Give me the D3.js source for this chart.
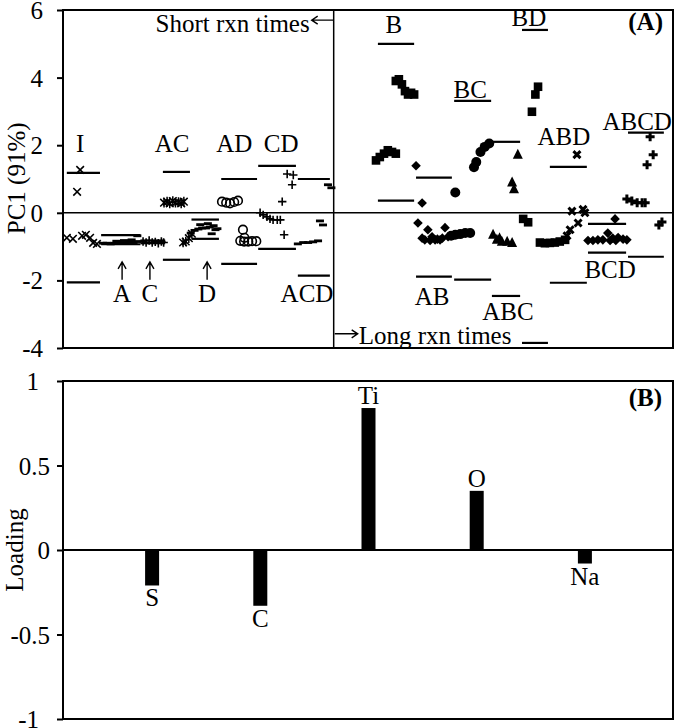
<!DOCTYPE html>
<html><head><meta charset="utf-8">
<script src="https://cdn.jsdelivr.net/npm/d3@7"></script>
<style>
body{margin:0;background:#fff}
svg{display:block}
text{font-family:"Liberation Serif","Times New Roman",serif;fill:#000}
</style>
</head><body>
<svg id="c" width="676" height="728"></svg>
<script>
// ---------------- DATA ----------------
const pcTicks = [-4, -2, 0, 2, 4, 6];
const loadTicks = [-1, -0.5, 0, 0.5, 1];
const elements = ["S", "C", "Ti", "O", "Na"];
const loadings = [-0.21, -0.33, 0.84, 0.35, -0.08];

// PC1 scores, [run index, PC1]
const ptsI = [[4.5,1.27],[3.7,0.62],[1.0,-0.74],[2.6,-0.77],[5.0,-0.68],[6.0,-0.65],[7.1,-0.74],[7.9,-0.89],[8.9,-0.92]];
const ptsA = [[10.5,-0.9],[11.5,-0.9],[12.5,-0.92],[13.5,-0.9],[14.5,-0.9],[15.5,-0.88],[16.5,-0.9],[17.5,-0.86],[18.5,-0.88],[19.5,-0.85],[14,-0.84],[16,-0.82],[18,-0.8],[19.5,-0.68]];
const ptsC = [[21,-0.85],[21.8,-0.88],[22.6,-0.82],[23.4,-0.88],[24.2,-0.86],[25,-0.9],[25.8,-0.85],[26.4,-0.88]];
const ptsAC = [[26.5,0.3],[27.3,0.33],[28,0.28],[28.8,0.35],[29.5,0.3],[30.3,0.32],[31,0.28],[31.7,0.33],[31.5,-0.88],[32.2,-0.85],[33,-0.75],[33.8,-0.62]];
const ptsD = [[33.5,-0.6],[34.5,-0.52],[35.5,-0.48],[36.5,-0.45],[37.5,-0.45],[38.5,-0.42],[39.5,-0.38],[40.5,-0.47],[36,-0.35],[38,-0.32],[40,-0.5],[39,-0.62]];
const ptsAD = [[41.7,0.33],[42.8,0.3],[43.8,0.28],[44.9,0.32],[45.9,0.36],[47.2,-0.5],[47.6,-0.74],[46.5,-0.83],[47.5,-0.85],[48.6,-0.85],[49.6,-0.84],[50.7,-0.84]];
const ptsCD = [[58.8,1.15],[60.4,1.12],[60.1,0.83],[57.5,0.33],[51.7,0.0],[52.5,-0.06],[53.5,-0.12],[54.3,-0.18],[55.1,-0.21],[56.2,-0.21],[57,-0.21],[58,-0.65]];
const ptsACD = [[61.6,-0.92],[63,-0.88],[64.3,-0.88],[65.6,-0.86],[66.9,-0.83],[67.4,-0.24],[68.2,-0.36],[69.5,0.83],[70.4,0.74]];
const ptsB = [[87.3,3.9],[88.1,3.95],[88.9,3.8],[89.7,3.6],[90.5,3.5],[91.3,3.55],[92.1,3.5],[82.1,1.55],[83.1,1.65],[84.2,1.75],[85.2,1.85],[86.3,1.8],[87.3,1.75]];
const ptsAB = [[92.6,1.39],[94.2,0.29],[93.1,-0.3],[95.7,-0.5],[94.9,-0.8],[96.8,-0.71],[97.6,-0.8],[98.9,-0.8],[100.2,-0.44],[101,-0.71],[94.2,-0.75],[96.3,-0.82],[98.2,-0.78],[99.5,-0.75]];
const ptsBC = [[102.9,0.6],[107.8,1.35],[108.4,1.5],[109.5,1.8],[110.6,1.95],[111.8,2.05],[102.9,-0.65],[104.2,-0.63],[105.5,-0.6],[106.8,-0.6],[101.8,-0.68]];
const ptsABC = [[119.3,1.72],[117.8,0.9],[118.3,0.7],[112.8,-0.65],[113.8,-0.8],[115.1,-0.86],[116.5,-0.86],[117.8,-0.89],[114.5,-0.75]];
const ptsBD = [[124.6,3.73],[123.9,3.5],[123,2.99],[120.7,-0.18],[122,-0.28],[125.1,-0.88],[126.4,-0.9],[127.7,-0.89],[129,-0.88],[130.3,-0.85],[131.7,-0.8]];
const ptsABD = [[134.8,1.72],[133.5,0.05],[136.4,0.1],[136.9,0.0],[135.1,-0.3],[133,-0.5],[132.2,-0.68]];
const ptsBCD = [[144.8,-0.18],[137.7,-0.82],[139,-0.82],[140.3,-0.8],[141.6,-0.8],[142.9,-0.6],[144.2,-0.75],[145.6,-0.73],[146.9,-0.78],[147.9,-0.8],[143.5,-0.82],[145,-0.82]];
const ptsABCD = [[154,2.25],[154.8,1.72],[153.2,1.42],[147.9,0.41],[149.2,0.35],[150.6,0.3],[151.9,0.3],[152.7,0.3],[157.1,-0.27],[156.3,-0.36]];

// limit lines: [group, start index, end index, upper, lower]
const limitLines = [
  ["I", 1.0, 9.7, 1.18, -2.06],
  ["A", 10, 20.3, -0.66, -0.93],
  ["C", 20.3, 26.8, -0.82, -0.9],
  ["AC", 26.2, 33.3, 1.21, -1.39],
  ["D", 33.7, 40.9, -0.2, -0.77],
  ["AD", 41.5, 50.9, 1.0, -1.51],
  ["CD", 51.2, 61.1, 1.39, -1.07],
  ["ACD", 61.6, 70.0, 1.0, -1.86],
  ["B", 82.6, 92.1, 5.0, 0.36],
  ["AB", 92.6, 102, 1.04, -1.89],
  ["BC", 102.6, 112.3, 3.31, -1.98],
  ["ABC", 112.5, 119.9, 2.1, -2.46],
  ["BD", 120.4, 127.2, 5.41, -3.85],
  ["ABD", 127.7, 137.4, 1.36, -2.07],
  ["BCD", 137.7, 147.7, -0.33, -1.18],
  ["ABCD", 148.2, 157.6, 2.37, -1.3]
];

// group labels: [text, index, PC1 at baseline]
const groupLabels = [
  ["I",4.5,1.8],["AC",28.6,1.8],["AD",44.9,1.8],["CD",57.2,1.8],
  ["A",15.5,-2.63],["C",22.8,-2.63],["D",37.8,-2.63],["ACD",64,-2.63],
  ["B",86.8,5.33],["BD",122.2,5.52],["BC",106.8,3.4],["ABD",131.4,2.01],["ABCD",150.6,2.46],
  ["AB",96.8,-2.72],["ABC",116.7,-3.17],["BCD",143.5,-1.92]
];
const arrowGroups = [15.5, 22.8, 37.8];
const dividerIndex = 71;

// ---------------- CHART ----------------
const svg = d3.select("#c");
const FS = 25;
const xA = d3.scaleLinear().domain([0,160]).range([63,673]);
const yA = d3.scaleLinear().domain([-4,6]).range([348,10]);
const xB = d3.scaleBand().domain(elements).range([98,639]);
const yB = d3.scaleLinear().domain([-1,1]).range([719,381]);

// ---- Panel A ----
const gA = svg.append("g");
gA.append("rect").attr("x",xA(0)).attr("y",yA(6)).attr("width",xA(160)-xA(0)).attr("height",yA(-4)-yA(6))
  .attr("fill","none").attr("stroke","#000").attr("stroke-width",2);
gA.append("line").attr("x1",xA(dividerIndex)).attr("x2",xA(dividerIndex)).attr("y1",yA(6)).attr("y2",yA(-4))
  .attr("stroke","#000").attr("stroke-width",1.5);
gA.append("line").attr("x1",xA(0)).attr("x2",xA(160)).attr("y1",yA(0)).attr("y2",yA(0))
  .attr("stroke","#000").attr("stroke-width",1.5);

const axA = gA.append("g").attr("transform",`translate(${xA(0)},0)`)
  .call(d3.axisLeft(yA).tickValues(pcTicks).tickSize(6).tickSizeOuter(0).tickPadding(14).tickFormat(d=>String(d)));
axA.select(".domain").remove();
axA.selectAll("line").attr("stroke","#000").attr("stroke-width",2);
axA.selectAll("text").attr("font-size",FS).attr("font-family","Liberation Serif").attr("dy","0.34em");

// limit lines
limitLines.forEach(l=>{
  [l[3],l[4]].forEach(v=>{
    gA.append("line").attr("x1",xA(l[1])).attr("x2",xA(l[2])).attr("y1",yA(v)).attr("y2",yA(v))
      .attr("stroke","#000").attr("stroke-width",2.2);
  });
});

// markers
function drawMarks(pts, type){
  const g = gA.append("g");
  pts.forEach(p=>{
    const cx = xA(p[0]), cy = yA(p[1]);
    if(type==="x"||type==="xb"){
      const s = type==="x"?3.8:3.5, w = type==="x"?1.6:3;
      g.append("path").attr("d",`M${cx-s},${cy-s}L${cx+s},${cy+s}M${cx-s},${cy+s}L${cx+s},${cy-s}`)
        .attr("stroke","#000").attr("stroke-width",w).attr("fill","none");
    } else if(type==="ast"){
      const s=3.8;
      g.append("path").attr("d",`M${cx-s},${cy-s}L${cx+s},${cy+s}M${cx-s},${cy+s}L${cx+s},${cy-s}M${cx},${cy-s-1}L${cx},${cy+s+1}`)
        .attr("stroke","#000").attr("stroke-width",1.5).attr("fill","none");
    } else if(type==="plus"||type==="plusb"){
      const s = type==="plus"?4.2:4.5, w = type==="plus"?1.6:3;
      g.append("path").attr("d",`M${cx-s},${cy}L${cx+s},${cy}M${cx},${cy-s}L${cx},${cy+s}`)
        .attr("stroke","#000").attr("stroke-width",w).attr("fill","none");
    } else if(type==="oc"){
      g.append("circle").attr("cx",cx).attr("cy",cy).attr("r",4.3).attr("fill","none").attr("stroke","#000").attr("stroke-width",1.6);
    } else if(type==="dash"){
      g.append("rect").attr("x",cx-4).attr("y",cy-1.4).attr("width",8).attr("height",2.8).attr("fill","#000");
    } else if(type==="sq"){
      g.append("rect").attr("x",cx-4.3).attr("y",cy-4.3).attr("width",8.6).attr("height",8.6).attr("fill","#000");
    } else if(type==="dia"){
      const s=4.8;
      g.append("path").attr("d",`M${cx},${cy-s}L${cx+s},${cy}L${cx},${cy+s}L${cx-s},${cy}Z`).attr("fill","#000");
    } else if(type==="fc"){
      g.append("circle").attr("cx",cx).attr("cy",cy).attr("r",5).attr("fill","#000");
    } else if(type==="tri"){
      const s=5;
      g.append("path").attr("d",`M${cx},${cy-s-1}L${cx+s},${cy+s-1}L${cx-s},${cy+s-1}Z`).attr("fill","#000");
    }
  });
}
drawMarks(ptsI,"x");
drawMarks(ptsA,"dash");
drawMarks(ptsC,"plus");
drawMarks(ptsAC,"ast");
drawMarks(ptsD,"dash");
drawMarks(ptsAD,"oc");
drawMarks(ptsCD,"plus");
drawMarks(ptsACD,"dash");
drawMarks(ptsB,"sq");
drawMarks(ptsAB,"dia");
drawMarks(ptsBC,"fc");
drawMarks(ptsABC,"tri");
drawMarks(ptsBD,"sq");
drawMarks(ptsABD,"xb");
drawMarks(ptsBCD,"dia");
drawMarks(ptsABCD,"plusb");

// group labels
groupLabels.forEach(l=>{
  gA.append("text").attr("x",xA(l[1])).attr("y",yA(l[2])).attr("text-anchor","middle")
    .attr("font-size",FS).text(l[0]);
});
// up arrows
arrowGroups.forEach(i=>{
  const x = xA(i), yt = yA(-1.45), yb = yA(-1.98);
  gA.append("path").attr("d",`M${x},${yb}L${x},${yt}M${x-4},${yt+7}L${x},${yt}L${x+4},${yt+7}`)
    .attr("stroke","#000").attr("stroke-width",1.4).attr("fill","none");
});
// Short / Long rxn time annotations
const xd = xA(dividerIndex);
gA.append("text").attr("x",xd-24).attr("y",yA(5.36)).attr("text-anchor","end").attr("font-size",FS).text("Short rxn times");
{
  const y = yA(5.7), x1 = xd-22;
  gA.append("path").attr("d",`M${xd},${y}L${x1},${y}M${x1+6},${y-4}L${x1},${y}L${x1+6},${y+4}`)
    .attr("stroke","#000").attr("stroke-width",1.4).attr("fill","none");
}
{
  const y = yA(-3.58), x2 = xd+24;
  gA.append("path").attr("d",`M${xd+1},${y}L${x2},${y}M${x2-6},${y-4}L${x2},${y}L${x2-6},${y+4}`)
    .attr("stroke","#000").attr("stroke-width",1.4).attr("fill","none");
  gA.append("text").attr("x",x2+1).attr("y",yA(-3.88)).attr("font-size",FS).text("Long rxn times");
}
gA.append("text").attr("x",xA(160)-10).attr("y",yA(5.4)).attr("text-anchor","end").attr("font-size",FS)
  .attr("font-weight","bold").text("(A)");
gA.append("text").attr("transform",`translate(25,${yA(1.02)}) rotate(-90)`).attr("text-anchor","middle")
  .attr("font-size",FS).text("PC1 (91%)");

// ---- Panel B ----
const gB = svg.append("g");
gB.append("rect").attr("x",xA(0)).attr("y",yB(1)).attr("width",xA(160)-xA(0)).attr("height",yB(-1)-yB(1))
  .attr("fill","none").attr("stroke","#000").attr("stroke-width",2);
gB.append("line").attr("x1",xA(0)).attr("x2",xA(160)).attr("y1",yB(0)).attr("y2",yB(0))
  .attr("stroke","#000").attr("stroke-width",2);
const axB = gB.append("g").attr("transform",`translate(${xA(0)},0)`)
  .call(d3.axisLeft(yB).tickValues(loadTicks).tickSize(6).tickSizeOuter(0).tickPadding(7).tickFormat(d=>String(d)));
axB.select(".domain").remove();
axB.selectAll("line").attr("stroke","#000").attr("stroke-width",2);
axB.selectAll("text").attr("font-size",FS).attr("font-family","Liberation Serif").attr("dy","0.34em")
  .attr("dx", d => Math.abs(d)===1 ? -11 : 0);

const bw = 14;
gB.selectAll("rect.bar").data(elements).enter().append("rect").attr("class","bar")
  .attr("x", d => xB(d) + (xB.bandwidth()-bw)/2)
  .attr("width", bw)
  .attr("y", (d,i) => yB(Math.max(0, loadings[i])))
  .attr("height", (d,i) => Math.abs(yB(loadings[i]) - yB(0)))
  .attr("fill","#000");
gB.selectAll("text.bl").data(elements).enter().append("text").attr("class","bl")
  .attr("x", d => xB(d) + xB.bandwidth()/2)
  .attr("y", (d,i) => loadings[i] >= 0 ? yB(loadings[i]) - 4 : yB(loadings[i]) + 21)
  .attr("text-anchor","middle").attr("font-size",FS).text(d=>d);
gB.append("text").attr("x",xA(160)-11).attr("y",yB(0.85)).attr("text-anchor","end").attr("font-size",FS)
  .attr("font-weight","bold").text("(B)");
gB.append("text").attr("transform",`translate(23,${yB(0)}) rotate(-90)`).attr("text-anchor","middle")
  .attr("font-size",FS).text("Loading");
</script>
</body></html>
